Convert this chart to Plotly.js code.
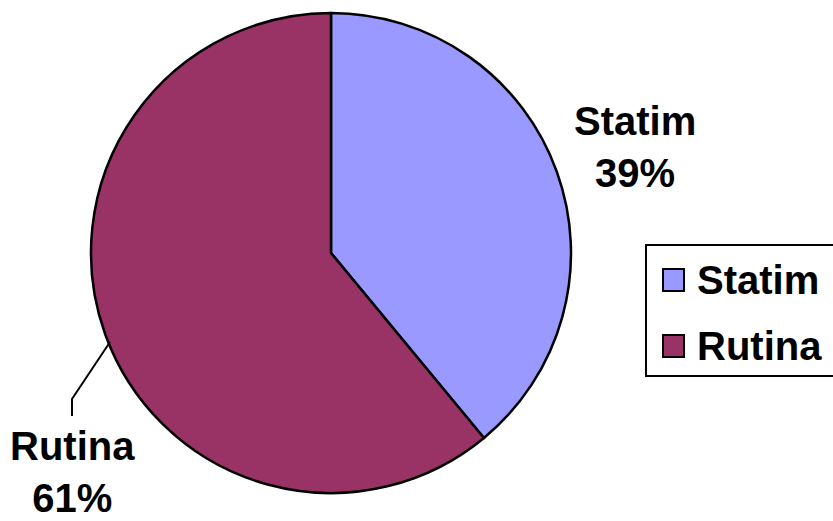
<!DOCTYPE html>
<html>
<head>
<meta charset="utf-8">
<script src="https://cdn.plot.ly/plotly-3.0.1.min.js"></script>
<style>
  html, body { margin: 0; padding: 0; background: #fff; }
  #chart { width: 833px; height: 521px; }
</style>
</head>
<body>
<div id="chart"></div>
<script>
// Share of requests by priority
const categories = ['Statim', 'Rutina'];
const shares = [39, 61];
const sliceColors = ['#9999FF', '#993366'];

const W = 833, H = 521;
const px = x => x / W;          // pixel -> paper x
const py = y => 1 - y / H;      // pixel -> paper y (from top)

const FONT = { family: 'Liberation Sans, Arial, sans-serif', size: 40, color: '#000', weight: 'bold' };

// Pie: centre (331,253), radius 240 px
const cx = 331, cy = 253, r = 240;

const pie = {
  type: 'pie',
  labels: categories,
  values: shares,
  sort: false,
  direction: 'clockwise',
  rotation: 0,
  textinfo: 'none',
  hoverinfo: 'label+percent',
  marker: { colors: sliceColors, line: { color: '#000', width: 2.5 } },
  domain: { x: [px(cx - r), px(cx + r)], y: [py(cy + r), py(cy - r)] },
  showlegend: false
};

// Outside labels: category name + percentage
const labelPos = [
  { x: 635, y: 147 },
  { x: 72, y: 472 }
];
const total = shares.reduce((a, b) => a + b, 0);
const annotations = categories.map((c, i) => ({
  xref: 'paper', yref: 'paper',
  x: px(labelPos[i].x), y: py(labelPos[i].y),
  xanchor: 'center', yanchor: 'middle',
  text: c + '<br>' + Math.round(shares[i] / total * 100) + '%',
  showarrow: false, align: 'center',
  font: FONT
}));

// Leader line for the lower-left label
const shapes = [{
  type: 'path', xref: 'paper', yref: 'paper',
  path: `M${px(110)},${py(342)} L${px(72)},${py(399)} L${px(72)},${py(416)}`,
  line: { color: '#000', width: 2 }
}];

// Legend box with square swatches
shapes.push({
  type: 'rect', xref: 'paper', yref: 'paper',
  x0: px(646), x1: px(840), y0: py(376), y1: py(245),
  line: { color: '#000', width: 2 }, fillcolor: 'rgba(0,0,0,0)'
});
categories.forEach((c, i) => {
  const top = 269 + i * 66;
  shapes.push({
    type: 'rect', xref: 'paper', yref: 'paper',
    x0: px(663), x1: px(684), y0: py(top + 22), y1: py(top),
    line: { color: '#000', width: 2 }, fillcolor: sliceColors[i]
  });
  annotations.push({
    xref: 'paper', yref: 'paper',
    x: px(695), y: py(top + 11),
    xanchor: 'left', yanchor: 'middle',
    text: c, showarrow: false,
    font: FONT
  });
});

const layout = {
  width: W, height: H,
  margin: { l: 0, r: 0, t: 0, b: 0 },
  paper_bgcolor: '#fff',
  plot_bgcolor: '#fff',
  showlegend: false,
  annotations: annotations,
  shapes: shapes
};

Plotly.newPlot('chart', [pie], layout, { displayModeBar: false, staticPlot: true });
</script>
</body>
</html>
